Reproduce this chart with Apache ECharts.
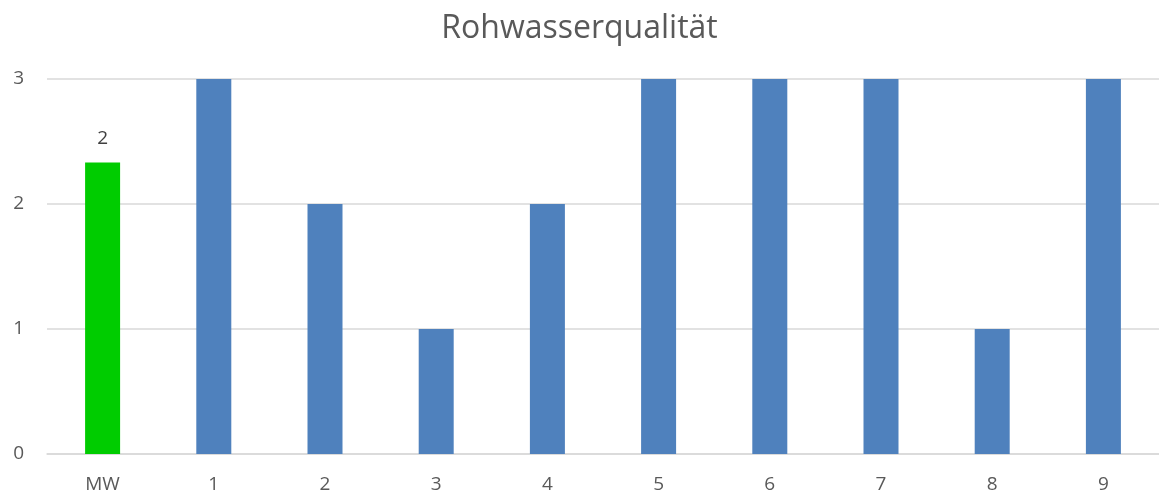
<!DOCTYPE html>
<html>
<head>
<meta charset="utf-8">
<script src="https://cdn.jsdelivr.net/npm/echarts@6/dist/echarts.min.js"></script>
<style>
    html, body {margin: 0; padding: 0; background: #fff;}
    #chart {width: 1159px; height: 494px;}
</style>
</head>
<body>
<div id="chart"></div>
<script>
    var categories = ['MW', '1', '2', '3', '4', '5', '6', '7', '8', '9'];
    var werte = [2.333, 3, 2, 1, 2, 3, 3, 3, 1, 3];
    var farben = ['#00cc00', '#4f81bd', '#4f81bd', '#4f81bd', '#4f81bd', '#4f81bd', '#4f81bd', '#4f81bd', '#4f81bd', '#4f81bd'];
    var yTicks = [0, 1, 2, 3];

    var myChart = echarts.init(document.getElementById('chart'));
    myChart.setOption({
        animation: false,
        title: {
            text: 'Rohwasserqualität',
            left: 'center',
            top: 8,
            textStyle: {fontFamily: 'Open Sans', fontSize: 32, fontWeight: 'normal', color: '#595959'}
        },
        grid: {left: 47, right: 0, top: 79, bottom: 37},
        xAxis: {
            type: 'category',
            data: categories,
            axisTick: {show: false},
            axisLine: {lineStyle: {color: '#d9d9d9', width: 1.5}},
            axisLabel: {color: '#595959', fontFamily: 'Open Sans', fontSize: 19, margin: 21}
        },
        yAxis: {
            type: 'value',
            min: yTicks[0],
            max: yTicks[yTicks.length - 1],
            interval: 1,
            axisLine: {show: false},
            axisTick: {show: false},
            splitLine: {lineStyle: {color: '#d9d9d9', width: 1.5}},
            axisLabel: {color: '#595959', fontFamily: 'Open Sans', fontSize: 19, margin: 23}
        },
        series: [{
            type: 'bar',
            barWidth: 35,
            data: werte.map(function (v, i) {
                return {
                    value: v,
                    itemStyle: {color: farben[i]},
                    label: {show: i === 0}
                };
            }),
            label: {
                position: 'top',
                distance: 14,
                color: '#404040',
                fontFamily: 'Open Sans',
                fontSize: 19,
                formatter: function (p) { return Math.round(p.value); }
            }
        }]
    });
</script>
</body>
</html>
